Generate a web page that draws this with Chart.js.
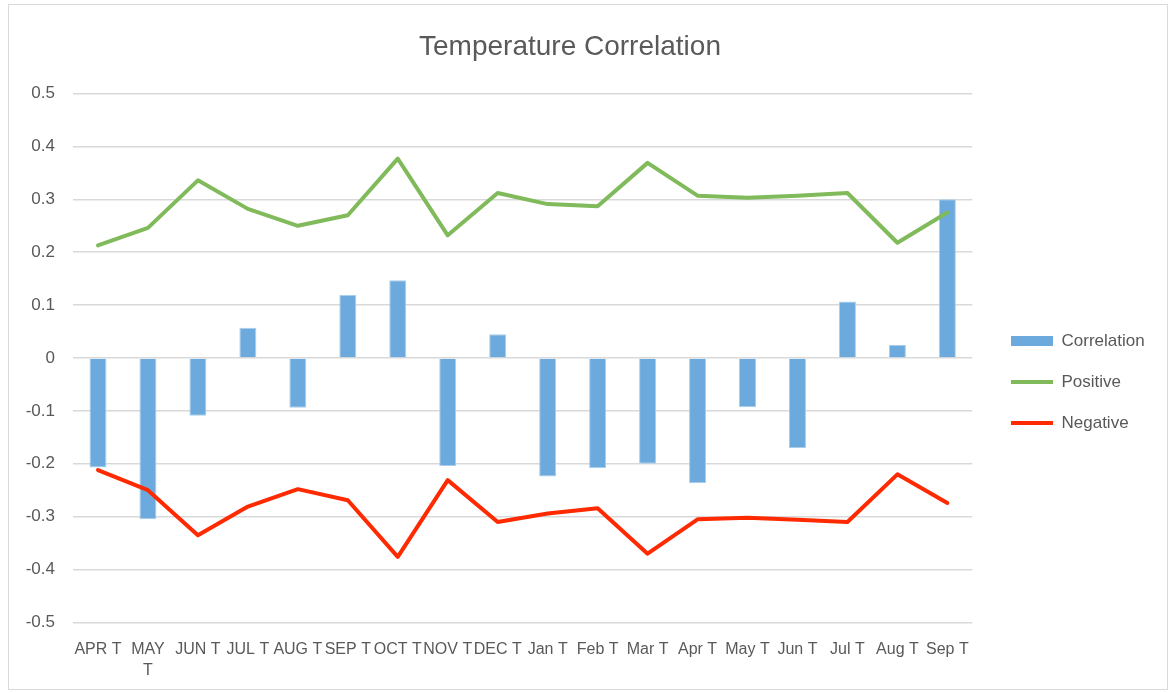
<!DOCTYPE html>
<html>
<head>
<meta charset="utf-8">
<script src="https://cdn.jsdelivr.net/npm/chart.js@4/dist/chart.umd.min.js"></script>
<style>
  html, body { margin: 0; padding: 0; background: #ffffff; }
  #wrap { width: 1172px; height: 693px; }
</style>
</head>
<body>
<div id="wrap"><canvas id="c" width="1172" height="693"></canvas></div>
<script>
const categories = ['APR T', ['MAY', 'T'], 'JUN T', 'JUL T', 'AUG T', 'SEP T', 'OCT T', 'NOV T', 'DEC T',
  'Jan T', 'Feb T', 'Mar T', 'Apr T', 'May T', 'Jun T', 'Jul T', 'Aug T', 'Sep T'];
const correlation = [-0.207, -0.305, -0.109, 0.057, -0.094, 0.119, 0.147, -0.204, 0.045,
  -0.224, -0.208, -0.200, -0.237, -0.093, -0.170, 0.107, 0.025, 0.300];
const positive = [0.213, 0.246, 0.336, 0.282, 0.250, 0.270, 0.377, 0.232, 0.312,
  0.291, 0.287, 0.369, 0.307, 0.303, 0.307, 0.312, 0.218, 0.275];
const negative = [-0.212, -0.250, -0.335, -0.281, -0.248, -0.269, -0.376, -0.231, -0.310,
  -0.294, -0.284, -0.370, -0.305, -0.302, -0.306, -0.310, -0.220, -0.274];
const seriesNames = ['Correlation', 'Positive', 'Negative'];
const titleText = 'Temperature Correlation';

Chart.defaults.font.family = "'Liberation Sans', Arial, sans-serif";
Chart.defaults.color = '#595959';

const frame = {
  id: 'frame',
  beforeDraw(chart) {
    const ctx = chart.ctx;
    ctx.save();
    ctx.strokeStyle = '#D9D9D9';
    ctx.lineWidth = 1;
    ctx.strokeRect(8.5, 4.5, 1159, 685);
    ctx.restore();
  }
};

const legendPlace = {
  id: 'legendPlace',
  afterLayout(chart) {
    const lg = chart.legend;
    if (!lg) return;
    const pad = lg.options.labels.padding;
    const w = lg.width;
    lg.left = 1011 - pad;
    lg.right = lg.left + w;
    lg.top += 33;
    lg.bottom += 33;
  }
};

new Chart(document.getElementById('c'), {
  data: {
    labels: categories,
    datasets: [
      {
        type: 'bar',
        label: seriesNames[0],
        data: correlation,
        backgroundColor: '#6CAADD',
        borderColor: '#A9CDEC',
        borderWidth: 1,
        barPercentage: 0.34,
        categoryPercentage: 1,
        order: 3
      },
      {
        type: 'line',
        label: seriesNames[1],
        data: positive,
        borderColor: '#80BA5A',
        backgroundColor: '#80BA5A',
        borderWidth: 4,
        pointRadius: 0,
        tension: 0,
        borderCapStyle: 'round',
        borderJoinStyle: 'round',
        order: 1
      },
      {
        type: 'line',
        label: seriesNames[2],
        data: negative,
        borderColor: '#FF2A00',
        backgroundColor: '#FF2A00',
        borderWidth: 4,
        pointRadius: 0,
        tension: 0,
        borderCapStyle: 'round',
        borderJoinStyle: 'round',
        order: 2
      }
    ]
  },
  options: {
    responsive: false,
    animation: false,
    devicePixelRatio: 1,
    layout: { padding: { left: 0, top: 0, right: 32, bottom: -5 } },
    plugins: {
      title: {
        display: true,
        text: titleText,
        color: '#595959',
        font: { size: 28, weight: 'normal' },
        padding: { top: 30, bottom: 30 }
      },
      legend: {
        position: 'right',
        align: 'center',
        labels: {
          usePointStyle: true,
          pointStyleWidth: 42,
          boxWidth: 42,
          boxHeight: 10,
          padding: 24,
          color: '#595959',
          font: { size: 17 },
          sort: (a, b) => a.datasetIndex - b.datasetIndex,
          generateLabels(chart) {
            const items = Chart.defaults.plugins.legend.labels.generateLabels(chart);
            items.forEach(it => {
              it.pointStyle = it.datasetIndex === 0 ? 'rect' : 'line';
              if (it.datasetIndex === 0) { it.lineWidth = 0; it.strokeStyle = '#6CAADD'; }
            });
            return items;
          }
        }
      },
      tooltip: { enabled: false }
    },
    scales: {
      x: {
        grid: { display: false, drawTicks: false },
        border: { display: false },
        ticks: {
          autoSkip: false,
          maxRotation: 0,
          minRotation: 0,
          padding: 17,
          color: '#595959',
          font: { size: 16, lineHeight: 1.3 }
        }
      },
      y: {
        min: -0.5,
        max: 0.5,
        afterFit(scale) { scale.width = 73; },
        grid: { color: '#D9D9D9', lineWidth: 1.5, drawTicks: false },
        border: { display: false },
        ticks: {
          stepSize: 0.1,
          padding: 18,
          color: '#595959',
          font: { size: 17 },
          callback: v => { const n = Math.round(v * 10) / 10; return (n === 0 ? 0 : n).toString(); }
        }
      }
    }
  },
  plugins: [frame, legendPlace]
});
</script>
</body>
</html>
